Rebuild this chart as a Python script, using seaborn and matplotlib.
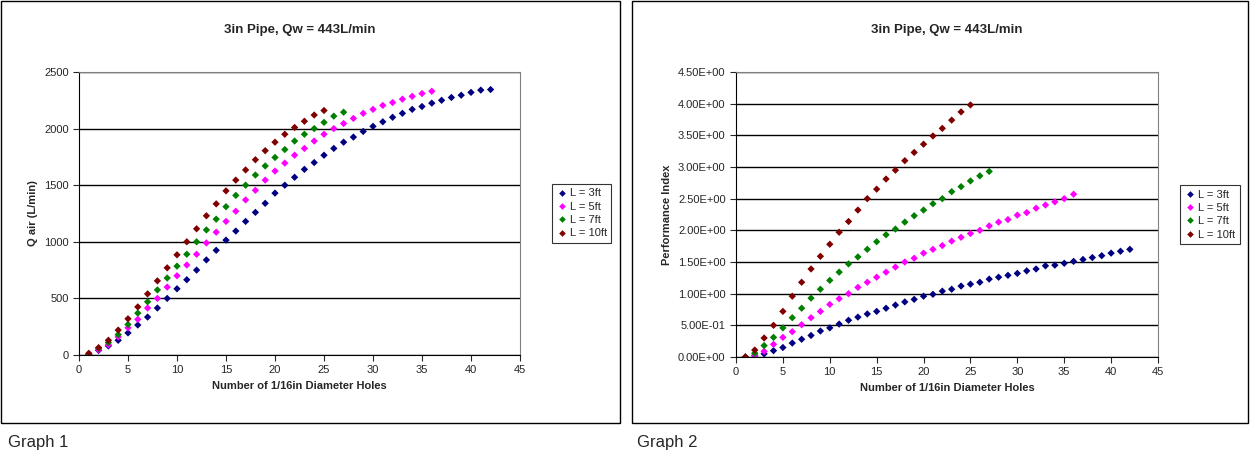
import numpy as np
import pandas as pd
import matplotlib
matplotlib.use("Agg")
import matplotlib.pyplot as plt
import seaborn as sns
from matplotlib.patches import Rectangle
from matplotlib.ticker import FuncFormatter

# Graph 1: Q air (L/min) vs number of holes
qair_3ft = [5, 40, 80, 130, 195, 265, 335, 415, 500, 585, 665, 750, 840, 925, 1015, 1095, 1180, 1260, 1340, 1430,
            1500, 1570, 1640, 1700, 1765, 1825, 1880, 1925, 1975, 2020, 2060, 2100, 2135, 2170, 2195, 2225, 2250,
            2275, 2295, 2320, 2340, 2345]
qair_5ft = [5, 45, 90, 160, 240, 315, 415, 500, 600, 700, 795, 890, 990, 1085, 1180, 1270, 1370, 1455, 1545, 1625,
            1695, 1765, 1825, 1890, 1950, 2000, 2045, 2090, 2135, 2170, 2205, 2230, 2260, 2285, 2310, 2330]
qair_7ft = [5, 60, 110, 180, 270, 370, 470, 575, 680, 785, 890, 1000, 1105, 1200, 1310, 1410, 1500, 1590, 1670,
            1745, 1815, 1890, 1950, 2000, 2055, 2110, 2145]
qair_10ft = [15, 65, 130, 220, 320, 425, 540, 655, 770, 885, 1000, 1115, 1230, 1335, 1450, 1545, 1635, 1725, 1805,
             1880, 1950, 2010, 2065, 2120, 2160]

# Graph 2: performance index
pi_3ft = [0.0, 0.02, 0.05, 0.10, 0.15, 0.22, 0.28, 0.34, 0.41, 0.46, 0.52, 0.58, 0.63, 0.68, 0.72, 0.77, 0.82, 0.87,
          0.91, 0.96, 0.99, 1.04, 1.07, 1.12, 1.15, 1.18, 1.23, 1.26, 1.29, 1.32, 1.36, 1.39, 1.44, 1.45, 1.48, 1.51,
          1.54, 1.57, 1.60, 1.64, 1.67, 1.70]
pi_5ft = [0.0, 0.03, 0.09, 0.20, 0.31, 0.40, 0.51, 0.62, 0.72, 0.83, 0.92, 1.00, 1.10, 1.18, 1.26, 1.34, 1.42, 1.50,
          1.56, 1.64, 1.70, 1.76, 1.83, 1.89, 1.95, 2.00, 2.07, 2.13, 2.17, 2.24, 2.28, 2.35, 2.40, 2.45, 2.50, 2.57]
pi_7ft = [0.0, 0.06, 0.18, 0.31, 0.46, 0.62, 0.77, 0.93, 1.07, 1.21, 1.34, 1.47, 1.58, 1.70, 1.82, 1.93, 2.02, 2.13,
          2.23, 2.32, 2.42, 2.50, 2.61, 2.69, 2.78, 2.86, 2.93]
pi_10ft = [0.0, 0.11, 0.30, 0.50, 0.72, 0.96, 1.18, 1.39, 1.59, 1.78, 1.97, 2.14, 2.32, 2.50, 2.65, 2.81, 2.95, 3.10,
           3.23, 3.36, 3.49, 3.61, 3.74, 3.87, 3.98]

series_labels = ["L = 3ft", "L = 5ft", "L = 7ft", "L = 10ft"]
colors = ["#000080", "#FF00FF", "#008000", "#800000"]


def long_df(series):
    rows = []
    for lab, vals in zip(series_labels, series):
        for i, v in enumerate(vals):
            rows.append({"holes": i + 1, "val": v, "L": lab})
    return pd.DataFrame(rows)


df1 = long_df([qair_3ft, qair_5ft, qair_7ft, qair_10ft])
df2 = long_df([pi_3ft, pi_5ft, pi_7ft, pi_10ft])

sns.set_style("white")
plt.rcParams["font.family"] = ["Liberation Sans", "DejaVu Sans"]

W, H = 1250, 463
fig = plt.figure(figsize=(W / 100, H / 100), dpi=100)
fig.patch.set_facecolor("white")

# chart frames
for x0, x1 in [(1, 620), (632, 1248)]:
    fig.patches.append(Rectangle((x0 / W, 1 - 423 / H), (x1 - x0) / W, 422 / H, transform=fig.transFigure,
                                 fill=False, edgecolor="black", linewidth=1))


def setup(ax, df, ylim, yticks, ylabel, fmt, legend_pos):
    sns.scatterplot(data=df, x="holes", y="val", hue="L", palette=colors, marker="D", s=14,
                    edgecolor=None, linewidth=0, ax=ax)
    ax.set_xlim(0, 45)
    ax.set_ylim(*ylim)
    ax.set_xticks(range(0, 46, 5))
    ax.set_yticks(yticks)
    ax.yaxis.set_major_formatter(FuncFormatter(fmt))
    ax.yaxis.grid(True, color="black", linewidth=1)
    ax.set_axisbelow(True)
    ax.tick_params(labelsize=8, length=4, direction="out", left=True, bottom=True, width=0.8)
    for s in ["top", "right"]:
        ax.spines[s].set_color("#808080")
    for s in ["left", "bottom"]:
        ax.spines[s].set_color("black")
    ax.set_xlabel("Number of 1/16in Diameter Holes", fontsize=8, fontweight="bold")
    ax.set_ylabel(ylabel, fontsize=8, fontweight="bold")
    ax.set_title("3in Pipe, Qw = 443L/min", fontsize=9.5, fontweight="bold", pad=28)
    leg = ax.legend(loc="center left", bbox_to_anchor=legend_pos, frameon=True, fontsize=8,
                    handletextpad=0.2, borderpad=0.4, labelspacing=0.3, handlelength=1, fancybox=False,
                    markerscale=0.9)
    leg.get_frame().set_edgecolor("black")
    leg.get_frame().set_linewidth(0.8)


ax1 = fig.add_axes([79 / W, (H - 355) / H, 441 / W, 283 / H])
setup(ax1, df1, (0, 2500), range(0, 2501, 500), "Q air (L/min)", lambda v, p: f"{v:.0f}", (1.06, 0.5))

ax2 = fig.add_axes([736 / W, (H - 357) / H, 422 / W, 285 / H])
setup(ax2, df2, (0, 4.5), np.arange(0, 4.51, 0.5), "Performance Index",
      lambda v, p: f"{v:.2E}".replace("E+0", "E+0").replace("E-0", "E-0"), (1.04, 0.5))

fig.text(8 / W, 1 - 442 / H, "Graph 1", fontsize=12, va="center")
fig.text(637 / W, 1 - 442 / H, "Graph 2", fontsize=12, va="center")

fig.savefig("out.png", dpi=100)
